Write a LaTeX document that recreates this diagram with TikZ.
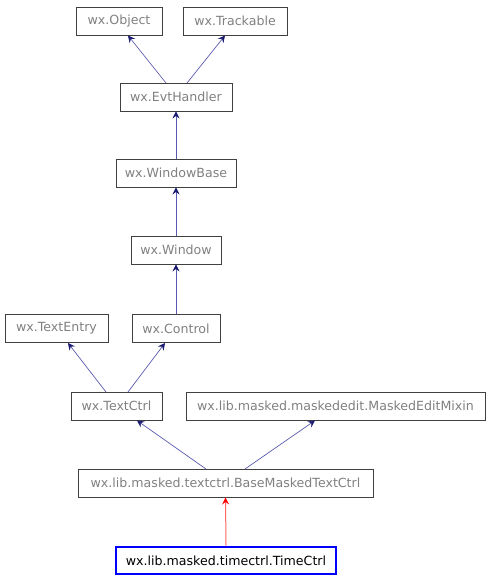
\documentclass[tikz,border=0pt]{standalone}
\usepackage{fontspec}
\setmainfont{DejaVu Sans}
\usetikzlibrary{arrows.meta}
\definecolor{txtgray}{HTML}{808080}
\definecolor{boxline}{HTML}{404040}
\definecolor{edgeblue}{HTML}{191970}
\definecolor{edgeline}{HTML}{5A5AB0}
\begin{document}
\begin{tikzpicture}[x=1pt,y=-1pt,
  cls/.style={draw=boxline, line width=0.9pt, text=txtgray, font=\fontsize{12.6}{14}\selectfont,
    inner sep=0pt, minimum height=28pt, anchor=center},
  main/.style={draw=blue, line width=2.6pt, text=black, font=\fontsize{12.6}{14}\selectfont,
    inner sep=0pt, minimum height=27pt, anchor=center},
  inh/.style={draw=edgeline, line width=0.7pt, -{Stealth[length=7pt,width=7pt,inset=2.5pt,fill=edgeblue,color=edgeblue]}},
  inhred/.style={draw=red!60, line width=1pt, -{Stealth[length=7pt,width=7pt,inset=2.5pt,fill=red,color=red]}}
]
\useasboundingbox (0,0) rectangle (490,581);
\node[cls, minimum width=86pt] (obj) at (119,21) {wx.Object};
\node[cls, minimum width=104pt] (trk) at (235,21) {wx.Trackable};
\node[cls, minimum width=112pt] (evt) at (176,97) {wx.EvtHandler};
\node[cls, minimum width=120pt] (wbase) at (176,173) {wx.WindowBase};
\node[cls, minimum width=90pt] (win) at (176,250) {wx.Window};
\node[cls, minimum width=103pt] (tent) at (56.5,328.5) {wx.TextEntry};
\node[cls, minimum width=88pt] (ctl) at (176,328.5) {wx.Control};
\node[cls, minimum width=91pt] (tctl) at (116.5,406) {wx.TextCtrl};
\node[cls, minimum width=299pt] (mix) at (335.5,406) {wx.lib.masked.maskededit.MaskedEditMixin};
\node[cls, minimum width=295pt] (base) at (225.5,483) {wx.lib.masked.textctrl.BaseMaskedTextCtrl};
\node[main, minimum width=220pt] (tc) at (226,560.5) {wx.lib.masked.timectrl.TimeCtrl};

\coordinate (e1s) at (166,83);  \coordinate (e1t) at (128,35.5);
\coordinate (e2s) at (187,83);  \coordinate (e2t) at (225,35.5);
\draw[inh] (e1s) -- (e1t);
\draw[inh] (e2s) -- (e2t);
\draw[inh] (wbase.north) -- (evt.south);
\draw[inh] (win.north) -- (wbase.south);
\draw[inh] (ctl.north) -- (win.south);
\coordinate (e3s) at (106,392); \coordinate (e3t) at (68,343);
\coordinate (e4s) at (128,392); \coordinate (e4t) at (165,343);
\draw[inh] (e3s) -- (e3t);
\draw[inh] (e4s) -- (e4t);
\coordinate (e5s) at (206,469); \coordinate (e5t) at (137,420.5);
\coordinate (e6s) at (245,469); \coordinate (e6t) at (315,420.5);
\draw[inh] (e5s) -- (e5t);
\draw[inh] (e6s) -- (e6t);
\draw[inhred] (tc.north) -- (base.south);
\end{tikzpicture}
\end{document}
